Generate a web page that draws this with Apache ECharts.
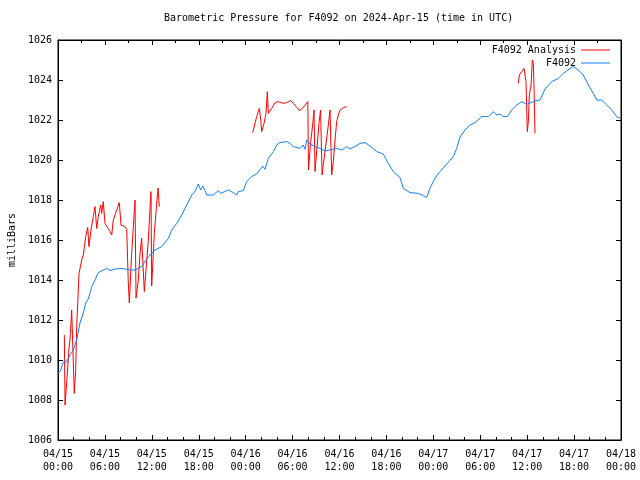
<!DOCTYPE html>
<html>
<head>
<meta charset="utf-8">
<script src="https://cdn.jsdelivr.net/npm/echarts@6/dist/echarts.min.js"></script>
<style>html,body{margin:0;padding:0;background:#fff;}#c{width:640px;height:480px;}</style>
</head>
<body>
<div id="c"></div>
<script>
// Hours since 2024-04-15 00:00 UTC
var blueHours = [0,0.26,0.68,1.11,1.53,1.96,2.39,2.81,3.24,3.54,3.88,4.31,4.73,5.15,5.79,6.23,6.65,7.29,8.15,9.21,9.85,10.7,11.55,12.41,13.26,14.11,14.54,15.18,15.82,16.46,17.1,17.52,17.94,18.25,18.51,18.8,19.02,19.86,20.5,20.81,21.78,22.42,22.85,23.06,23.7,24.13,24.77,25.41,26.18,26.47,26.9,27.54,27.97,28.39,29.25,29.67,30.09,30.95,31.37,31.59,31.81,32.23,32.87,33.51,34.15,34.79,35.64,36.28,36.92,37.34,37.98,38.62,39.26,39.9,40.76,41.6,42.24,42.88,43.74,44.16,45.02,46.08,46.72,47.15,47.58,48.22,48.86,49.71,50.56,50.99,51.41,52.05,52.69,53.33,54.19,55.03,55.67,56.1,56.53,56.95,57.46,58.02,58.66,59.3,59.94,60.37,61.01,61.64,62.28,63.14,63.98,64.62,65.48,65.9,66.54,67.18,67.82,68.46,68.9,69.53,70.17,70.81,71.45,71.87];
var blueValues = [1009.35,1009.42,1009.9,1009.9,1010.25,1010.5,1011.0,1011.85,1012.35,1012.85,1013.05,1013.67,1014.0,1014.37,1014.5,1014.58,1014.47,1014.55,1014.58,1014.5,1014.5,1014.67,1015.17,1015.5,1015.67,1016.08,1016.5,1016.83,1017.25,1017.75,1018.25,1018.42,1018.8,1018.5,1018.7,1018.47,1018.25,1018.25,1018.47,1018.33,1018.5,1018.37,1018.25,1018.42,1018.47,1018.92,1019.17,1019.3,1019.7,1019.53,1020.08,1020.42,1020.75,1020.87,1020.92,1020.83,1020.67,1020.58,1020.75,1020.53,1021.0,1020.8,1020.67,1020.58,1020.45,1020.5,1020.58,1020.5,1020.67,1020.55,1020.67,1020.83,1020.87,1020.7,1020.42,1020.3,1019.83,1019.42,1019.13,1018.58,1018.37,1018.33,1018.22,1018.13,1018.6,1019.1,1019.42,1019.8,1020.17,1020.58,1021.15,1021.5,1021.75,1021.87,1022.17,1022.17,1022.42,1022.25,1022.3,1022.17,1022.17,1022.5,1022.75,1022.92,1022.78,1022.85,1022.95,1023.0,1023.55,1023.92,1024.08,1024.33,1024.58,1024.67,1024.5,1024.25,1023.75,1023.33,1023.0,1023.0,1022.75,1022.5,1022.17,1022.08];

// F4092 Analysis (null = gap)
var redHours = [0.81,0.9,1.11,1.41,1.53,1.66,1.75,2.08,2.26,2.39,2.52,2.69,2.9,3.03,3.24,3.54,3.8,3.96,4.22,4.51,4.73,4.95,5.15,5.46,5.59,5.79,6.01,6.65,6.87,7.07,7.51,7.84,8.06,8.57,8.79,8.98,9.12,9.42,9.85,9.98,10.27,10.49,10.7,11.04,11.55,11.77,11.89,11.98,12.32,12.62,12.79,12.96,
  18.0,
  24.9,25.41,25.75,25.93,26.05,26.35,26.6,26.77,26.9,27.33,27.75,28.18,28.81,29.25,29.76,30.09,30.53,30.86,31.3,31.95,32.03,32.28,32.58,32.74,32.87,33.4,33.58,33.77,34.57,34.79,35.0,35.21,35.43,35.64,35.85,36.07,36.49,36.92,
  48.0,
  58.87,59.0,59.3,59.6,59.72,59.85,60.02,60.15,60.28,60.5,60.66,60.79,60.88,61.0];
var redValues = [1011.25,1007.75,1008.85,1010.6,1011.0,1011.85,1012.5,1008.33,1009.5,1011.67,1012.83,1014.33,1014.25,1015.0,1015.25,1016.17,1016.63,1015.67,1016.5,1017.17,1017.67,1016.58,1017.17,1017.75,1017.33,1017.92,1016.83,1016.42,1016.25,1017.0,1017.5,1017.87,1016.75,1016.67,1016.53,1014.0,1012.85,1015.33,1018.0,1013.1,1014.0,1015.3,1016.1,1013.42,1016.0,1017.6,1018.42,1013.7,1016.33,1017.8,1018.6,1017.67,
  null,
  1021.37,1022.17,1022.58,1022.0,1021.42,1021.83,1022.33,1023.42,1022.33,1022.58,1022.87,1022.92,1022.83,1022.87,1022.97,1022.83,1022.63,1022.47,1022.6,1022.92,1019.5,1020.75,1021.83,1022.5,1019.42,1021.92,1022.5,1019.25,1021.75,1022.5,1019.25,1019.92,1021.0,1021.92,1022.25,1022.5,1022.62,1022.67,
  null,
  1023.83,1024.25,1024.42,1024.58,1024.67,1023.92,1021.42,1021.92,1023.25,1023.75,1025.0,1024.83,1023.58,1021.33];

var xTickLabels = ['04/15\n00:00','04/15\n06:00','04/15\n12:00','04/15\n18:00','04/16\n00:00','04/16\n06:00','04/16\n12:00','04/16\n18:00','04/17\n00:00','04/17\n06:00','04/17\n12:00','04/17\n18:00','04/18\n00:00'];
var titleText = 'Barometric Pressure for F4092 on 2024-Apr-15 (time in UTC)';
var yName = 'milliBars';
var seriesNames = ['F4092 Analysis', 'F4092'];

function pairs(xs, ys) {
  var out = [];
  for (var i = 0; i < xs.length; i++) out.push([xs[i], ys[i]]);
  return out;
}

var FONT = 'DejaVu Sans Mono';
var chart = echarts.init(document.getElementById('c'), null, {renderer: 'canvas'});

function xAx(pos, minorSplit, showLabel) {
  return {
    type: 'value', position: pos, min: 0, max: 72, interval: 6,
    axisLine: {show: true, onZero: false, lineStyle: {color: '#000', width: 1}},
    axisTick: {show: true, inside: true, length: 5, lineStyle: {color: '#000'}},
    minorTick: {show: true, splitNumber: minorSplit, length: 3, lineStyle: {color: '#000'}},
    splitLine: {show: false}, minorSplitLine: {show: false},
    axisLabel: {
      show: showLabel, color: '#000', fontFamily: FONT, fontSize: 10, lineHeight: 13, margin: 8,
      showMinLabel: true, showMaxLabel: true, hideOverlap: false,
      formatter: function (v) { return xTickLabels[Math.round(v / 6)]; }
    }
  };
}
function yAx(pos, showLabel) {
  var a = {
    type: 'value', position: pos, min: 1006, max: 1026, interval: 2,
    axisLine: {show: true, onZero: false, lineStyle: {color: '#000', width: 1}},
    axisTick: {show: true, inside: true, length: 5, lineStyle: {color: '#000'}},
    splitLine: {show: false},
    axisLabel: {show: showLabel, color: '#000', fontFamily: FONT, fontSize: 10, margin: 6,
      formatter: function (v) { return String(v); }}
  };
  if (showLabel) {
    a.name = yName; a.nameLocation = 'middle'; a.nameRotate = 90; a.nameGap = 37;
    a.nameTextStyle = {color: '#000', fontFamily: FONT, fontSize: 10};
  }
  return a;
}

var legendCommon = {right: 30, padding: 0, align: 'right', icon: 'rect', itemWidth: 29, itemHeight: 1,
  textStyle: {color: '#000', fontFamily: FONT, fontSize: 10}};

chart.setOption({
  animation: false,
  backgroundColor: '#fff',
  title: {
    text: titleText, left: 164, top: 13, padding: 0,
    textStyle: {color: '#000', fontFamily: FONT, fontSize: 10, fontWeight: 'normal'}
  },
  legend: [
    Object.assign({data: [seriesNames[0]], top: 45}, legendCommon),
    Object.assign({data: [seriesNames[1]], top: 58}, legendCommon)
  ],
  grid: {left: 58, right: 19, top: 40, bottom: 40, show: true, borderColor: '#000', borderWidth: 1,
    containLabel: false, outerBoundsMode: 'none'},
  xAxis: [xAx('bottom', 3, true), xAx('top', 2, false)],
  yAxis: [yAx('left', true), yAx('right', false)],
  series: [
    {name: seriesNames[0], type: 'line', xAxisIndex: 0, yAxisIndex: 0, data: pairs(redHours, redValues),
     symbol: 'none', connectNulls: false, lineStyle: {color: '#ff0000', width: 1}, itemStyle: {color: '#ff0000'}},
    {name: seriesNames[1], type: 'line', xAxisIndex: 0, yAxisIndex: 0, data: pairs(blueHours, blueValues),
     symbol: 'none', lineStyle: {color: '#0f80ff', width: 1}, itemStyle: {color: '#0f80ff'}}
  ]
});
</script>
</body>
</html>
